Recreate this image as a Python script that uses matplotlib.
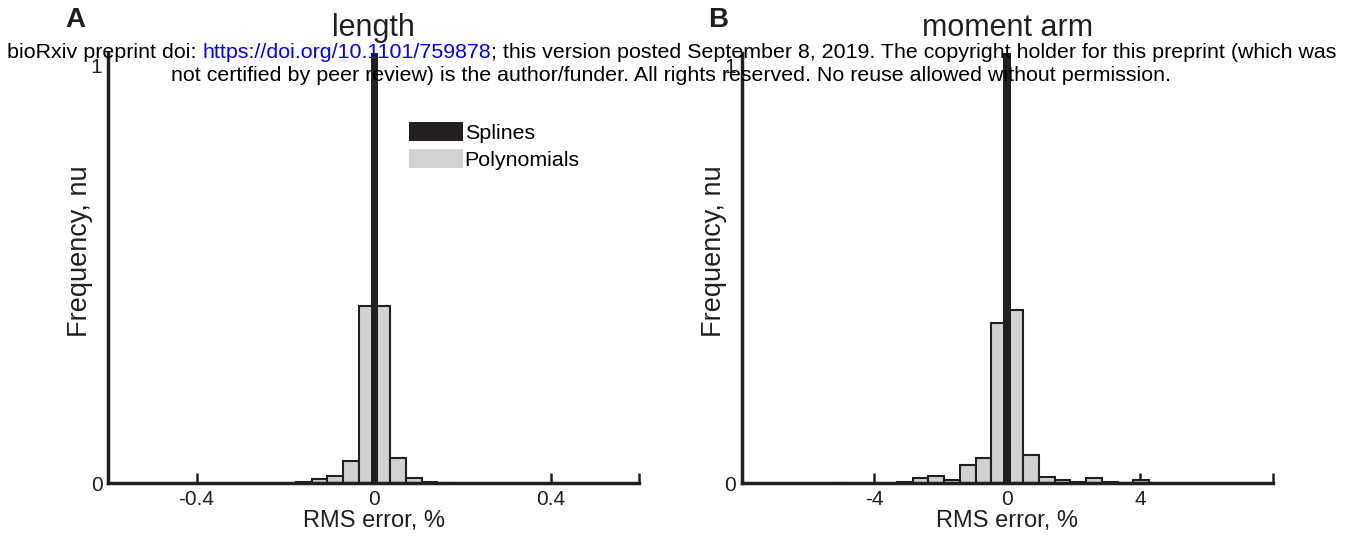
import numpy as np
import matplotlib
matplotlib.use("Agg")
import matplotlib.pyplot as plt
from matplotlib.patches import Patch

plt.rcParams['font.family'] = ['Liberation Sans', 'DejaVu Sans']

# panel A: length
len_edges = [-0.1755, -0.14, -0.1045, -0.069, -0.0335, 0.002, 0.0375, 0.073, 0.1085, 0.144]
len_poly = [0.002, 0.009, 0.016, 0.053, 0.423, 0.425, 0.061, 0.011, 0.003, 0.001]
len_bin_w = 0.0355
len_spline_x = [0.002]
len_spline_h = [1.05]
len_spline_w = 0.016

# panel B: moment arm
ma_edges = [-5.225, -3.325, -2.85, -2.375, -1.9, -1.425, -0.95, -0.475, 0.0,
            0.475, 0.95, 1.425, 1.9, 2.375, 2.85, 3.325, 3.8]
ma_poly = [0.001, 0.002, 0.013, 0.0175, 0.007, 0.043, 0.059, 0.383, 0.415,
           0.067, 0.015, 0.007, 0.002, 0.013, 0.002, 0.001, 0.008]
ma_bin_w = 0.475
ma_spline_x = [0.0]
ma_spline_h = [1.05]
ma_spline_w = 0.23

dark = '#231f20'
light = '#d1d2d4'

fig = plt.figure(figsize=(13.57, 5.44), dpi=100)
axA = fig.add_axes([0.0796, 0.1121, 0.3913, 0.7904])
axB = fig.add_axes([0.5466, 0.1121, 0.3913, 0.7904])


def draw(ax, edges, poly, bw, sx, sh, sw, xlim, ticks, ticklabels, title):
    ax.bar(edges, poly, width=bw, align='edge', color=light, edgecolor=dark,
           linewidth=1.5, zorder=2)
    ax.bar(sx, sh, width=sw, color=dark, linewidth=0, zorder=3)
    ax.set_xlim(*xlim)
    ax.set_ylim(0, 1.03)
    for s in ['top', 'right']:
        ax.spines[s].set_visible(False)
    for s in ['left', 'bottom']:
        ax.spines[s].set_linewidth(2.5)
        ax.spines[s].set_color(dark)
        ax.spines[s].set_zorder(4)
    ax.set_xticks(ticks)
    ax.set_xticklabels(ticklabels)
    ax.set_yticks([0, 1])
    ax.set_yticklabels(['0', '1'])
    ax.tick_params(axis='x', direction='in', length=7, width=1.8, color=dark,
                   labelsize=15, pad=5, labelcolor=dark)
    ax.tick_params(axis='y', direction='in', length=0, labelsize=15, pad=4,
                   labelcolor=dark)
    ax.set_xlabel('RMS error, %', fontsize=17, color=dark, labelpad=1)
    ax.set_ylabel('Frequency, nu', fontsize=19.5, color=dark)
    ax.yaxis.set_label_coords(-0.028, 0.54)
    ax.set_title(title, fontsize=22, color=dark, pad=12)


draw(axA, len_edges, len_poly, len_bin_w, len_spline_x, len_spline_h, len_spline_w,
     (-0.6, 0.6), [-0.4, 0, 0.4, 0.6], ['-0.4', '0', '0.4', ''], 'length')
draw(axB, ma_edges, ma_poly, ma_bin_w, ma_spline_x, ma_spline_h, ma_spline_w,
     (-8, 8), [-4, 0, 4, 8], ['-4', '0', '4', ''], 'moment arm')

axA.legend(handles=[Patch(facecolor=dark, label='Splines'),
                    Patch(facecolor=light, label='Polynomials')],
           loc='upper left', bbox_to_anchor=(0.567, 0.84), frameon=False,
           fontsize=15.4, handlelength=2.5, handleheight=1.03, handletextpad=0.1,
           labelspacing=0.27, borderpad=0, borderaxespad=0)

fig.text(0.0553, 0.963, 'A', fontsize=20, fontweight='bold', color=dark, va='center', ha='center')
fig.text(0.529, 0.963, 'B', fontsize=20, fontweight='bold', color=dark, va='center', ha='center')

# bioRxiv watermark, line 1 with blue link
parts = [('bioRxiv preprint doi: ', 'black'),
         ('https://doi.org/10.1101/759878', 'blue'),
         ('; this version posted September 8, 2019. The copyright holder for this preprint (which was', 'black')]
renderer = fig.canvas.get_renderer()
texts = []
for s, c in parts:
    texts.append(fig.text(0, 1 - 53 / 544, s, fontsize=15.4, color=c, va='center', ha='left'))
widths = [t.get_window_extent(renderer).width for t in texts]
total = sum(widths)
x = 672 - total / 2
for t, w in zip(texts, widths):
    t.set_x(x / 1357)
    x += w
fig.text(671 / 1357, 1 - 75 / 544,
         'not certified by peer review) is the author/funder. All rights reserved. No reuse allowed without permission.',
         fontsize=15.4, color='black', va='center', ha='center')

fig.savefig('out.png', dpi=100)
